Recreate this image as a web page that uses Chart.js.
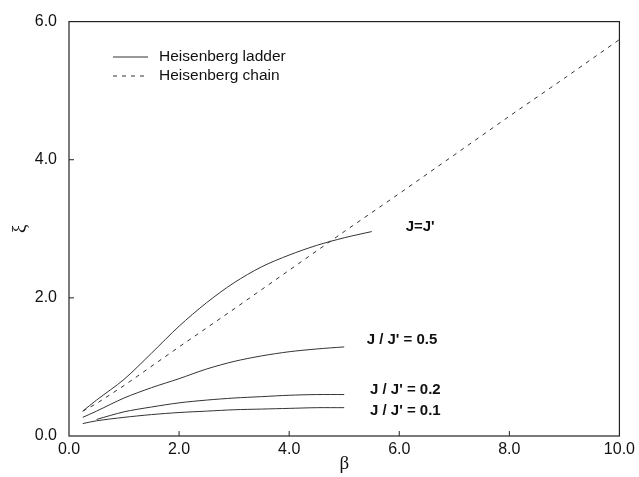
<!DOCTYPE html>
<html>
<head>
<meta charset="utf-8">
<script src="https://cdn.jsdelivr.net/npm/chart.js@4"></script>
<style>
    html, body { margin: 0; padding: 0; background: #fff; }
    #wrap { width: 639px; height: 477px; }
</style>
</head>
<body>
<div id="wrap"><canvas id="myChart" width="639" height="477"></canvas></div>
<script>
// beta values and correlation lengths
const betaLadder = [0.25, 0.5, 1.0, 1.5, 2.0, 2.5, 3.0, 3.5, 4.0, 4.5, 5.0, 5.5];
const xiRatio1 = [0.36, 0.52, 0.82, 1.20, 1.59, 1.93, 2.22, 2.45, 2.62, 2.76, 2.87, 2.96];

const betaRatio05 = [0.25, 0.5, 1.0, 1.5, 2.0, 2.5, 3.0, 3.5, 4.0, 4.5, 5.0];
const xiRatio05 = [0.27, 0.36, 0.55, 0.70, 0.83, 0.97, 1.08, 1.16, 1.22, 1.26, 1.29];

const betaRatio02 = [0.5, 1.0, 1.5, 2.0, 2.5, 3.0, 3.5, 4.0, 4.5, 5.0];
const xiRatio02 = [0.24, 0.35, 0.42, 0.48, 0.52, 0.55, 0.57, 0.59, 0.60, 0.60];

const betaRatio01 = [0.25, 0.5, 1.0, 1.5, 2.0, 2.5, 3.0, 3.5, 4.0, 4.5, 5.0];
const xiRatio01 = [0.18, 0.22, 0.27, 0.31, 0.34, 0.36, 0.38, 0.39, 0.40, 0.41, 0.41];

const betaChain = [0.25, 0.5, 1, 2, 3, 4, 5, 6, 7, 8, 9, 10];
const xiChain = [0.36, 0.47, 0.73, 1.29, 1.84, 2.40, 2.96, 3.51, 4.07, 4.63, 5.18, 5.74];

const curveLabels = ["J=J'", "J / J' = 0.5", "J / J' = 0.2", "J / J' = 0.1"];
const labelBeta = [6.38, 6.05, 6.11, 6.11];
const labelXi = [3.03, 1.39, 0.67, 0.36];

const legendNames = ['Heisenberg ladder', 'Heisenberg chain'];

const xTicks = [0, 2, 4, 6, 8, 10];
const yTicks = [0, 2, 4, 6];

const ink = '#333';

function pairs(xs, ys) {
    return xs.map((x, i) => ({ x: x, y: ys[i] }));
}

function solid(xs, ys) {
    return { data: pairs(xs, ys), borderColor: ink, borderWidth: 1, pointRadius: 0, fill: false, tension: 0.3 };
}

const extras = {
    id: 'extras',
    afterDraw(chart) {
        const c = chart.ctx;
        const a = chart.chartArea;
        const xs = chart.scales.x, ys = chart.scales.y;
        c.save();
        // frame
        c.strokeStyle = '#222';
        c.lineWidth = 1.2;
        c.strokeRect(a.left, a.top, a.right - a.left, a.bottom - a.top);
        // inward ticks
        c.lineWidth = 1;
        xTicks.slice(1, -1).forEach(v => {
            const px = xs.getPixelForValue(v);
            c.beginPath(); c.moveTo(px, a.bottom); c.lineTo(px, a.bottom - 5); c.stroke();
        });
        yTicks.slice(1, -1).forEach(v => {
            const py = ys.getPixelForValue(v);
            c.beginPath(); c.moveTo(a.left, py); c.lineTo(a.left + 5, py); c.stroke();
        });
        // curve labels
        c.fillStyle = '#111';
        c.font = 'bold 15px "Liberation Sans", Arial, sans-serif';
        c.textAlign = 'center';
        c.textBaseline = 'middle';
        curveLabels.forEach((t, i) => {
            c.fillText(t, xs.getPixelForValue(labelBeta[i]), ys.getPixelForValue(labelXi[i]));
        });
        // legend
        c.font = '15.5px "Liberation Sans", Arial, sans-serif';
        c.textAlign = 'left';
        c.strokeStyle = ink;
        [57, 76].forEach((y, i) => {
            c.setLineDash(i === 0 ? [] : [4, 5]);
            c.beginPath(); c.moveTo(113, y); c.lineTo(148, y); c.stroke();
            c.fillText(legendNames[i], 159, y);
        });
        c.restore();
    }
};

const ctx = document.getElementById('myChart').getContext('2d');
new Chart(ctx, {
    type: 'line',
    data: {
        datasets: [
            solid(betaLadder, xiRatio1),
            solid(betaRatio05, xiRatio05),
            solid(betaRatio02, xiRatio02),
            solid(betaRatio01, xiRatio01),
            { data: pairs(betaChain, xiChain), borderColor: ink, borderWidth: 1, borderDash: [4, 5], pointRadius: 0, fill: false, tension: 0 }
        ]
    },
    options: {
        responsive: false,
        animation: false,
        layout: { padding: { top: 14, right: 18, left: 0, bottom: 0 } },
        plugins: { legend: { display: false }, tooltip: { enabled: false } },
        scales: {
            x: {
                type: 'linear', min: 0, max: 10,
                afterBuildTicks: s => { s.ticks = xTicks.map(v => ({ value: v })); },
                afterFit: s => { s.height = 41; },
                grid: { display: false, drawTicks: false },
                border: { display: false },
                ticks: { color: '#111', padding: 4, maxRotation: 0, font: { family: '"Liberation Sans", Arial', size: 16 }, callback: v => v.toFixed(1) },
                title: { display: true, text: 'β', color: '#111', padding: { top: 0, bottom: 2 }, font: { family: '"Liberation Serif", serif', size: 19 } }
            },
            y: {
                type: 'linear', min: 0, max: 6,
                afterBuildTicks: s => { s.ticks = yTicks.map(v => ({ value: v })); },
                afterFit: s => { s.width = 69; },
                grid: { display: false, drawTicks: false },
                border: { display: false },
                ticks: { color: '#111', padding: 12, font: { family: '"Liberation Sans", Arial', size: 16 }, callback: v => v.toFixed(1) },
                title: { display: true, text: 'ξ', color: '#111', padding: { top: 9, bottom: 0 }, font: { family: '"Liberation Serif", serif', size: 19 } }
            }
        }
    },
    plugins: [extras]
});
</script>
</body>
</html>
